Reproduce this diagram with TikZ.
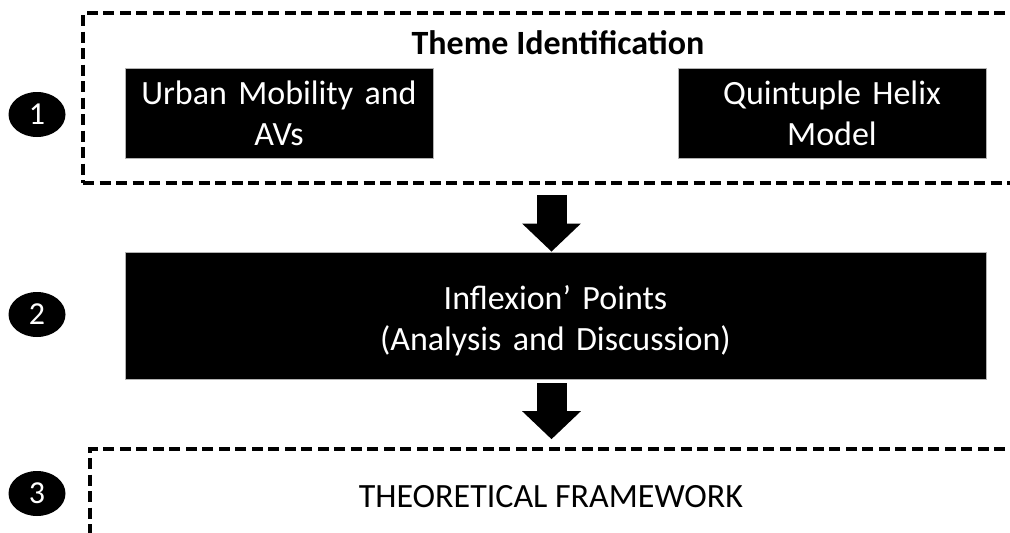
\documentclass[tikz,border=0pt]{standalone}
\usepackage{fontspec}
\setmainfont{Carlito}
\usetikzlibrary{arrows.meta,shapes.geometric}
\tikzset{
  dashbox/.style={draw=black, line width=3.6pt, dash pattern=on 11pt off 5.5pt, inner sep=0pt},
  blackbox/.style={fill=black, draw=gray!60, line width=0.8pt, text=white, align=center, inner sep=0pt, font=\fontsize{34}{41}\selectfont},
  numdot/.style={ellipse, fill=black, text=white, minimum width=57pt, minimum height=45pt, inner sep=0pt, font=\fontsize{32}{38}\selectfont},
  bigarrow/.style={line width=30pt, -{Triangle[width=57pt,length=28pt]}},
  heading/.style={font=\fontsize{34}{41}\selectfont}
}
\begin{document}
\begin{tikzpicture}[x=1pt,y=-1pt]
\useasboundingbox (0,0) rectangle (1010,533);
\clip (0,0) rectangle (1010,533);
% boxes
\node[dashbox, minimum width=937pt, minimum height=170pt] (top) at (551.5,98) {};
\node[heading, font=\fontsize{34}{41}\selectfont\bfseries] (theme) at (558,43) {Theme Identification};
\node[blackbox, minimum width=308pt, minimum height=90pt, text width=300pt] (urban) at (279,113) {Urban Mobility and\\AVs};
\node[blackbox, minimum width=308pt, minimum height=90pt, text width=300pt] (quint) at (832,113) {Quintuple Helix\\Model};
\node[blackbox, minimum width=861pt, minimum height=127pt, text width=850pt] (inflex) at (555.5,315.5) {\rule{0pt}{34pt}Inflexion’ Points\\(Analysis and Discussion)};
\node[dashbox, minimum width=930pt, minimum height=111pt] (bottom) at (555,504.5) {};
\node[heading] (theo) at (551,497) {THEORETICAL FRAMEWORK};
% numbers
\node[numdot] (n1) at (37,114.5) {1};
\node[numdot] (n2) at (37,314.5) {2};
\node[numdot] (n3) at (37,493.5) {3};
% arrows
\draw[bigarrow] ([yshift=-10pt]top.south) -- (top.south |- inflex.north);
\draw[bigarrow] ([yshift=-4pt]inflex.south -| top.south) -- ([yshift=8pt]bottom.north -| top.south);
\end{tikzpicture}
\end{document}
